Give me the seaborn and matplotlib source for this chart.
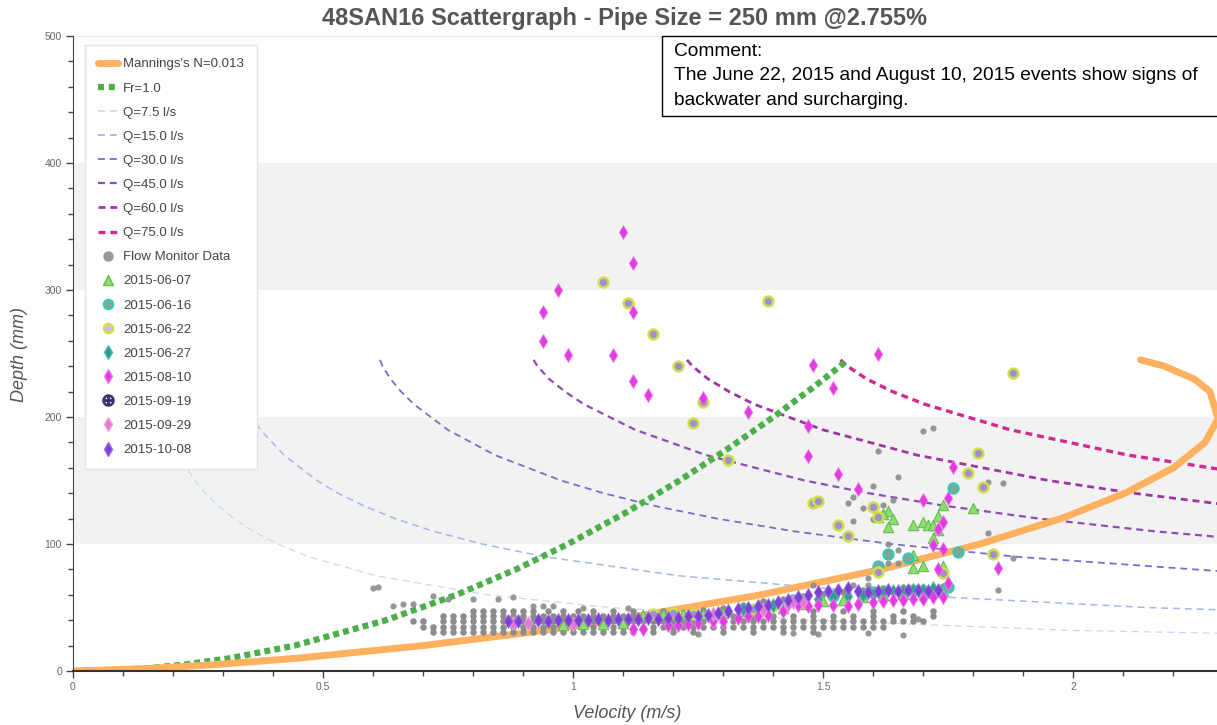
import numpy as np
import pandas as pd
import seaborn as sns
import matplotlib.pyplot as plt
from matplotlib.lines import Line2D
from matplotlib.patches import Rectangle
from matplotlib.ticker import MultipleLocator

sns.set_style("white")
plt.rcParams['font.family'] = ['Liberation Sans', 'DejaVu Sans']
plt.rcParams['lines.scale_dashes'] = False

# ---- design curves ----
manning_d = [0, 2, 5, 10, 20, 30, 40, 60, 80, 100, 120, 140, 160, 180, 200, 210, 220, 230, 240, 245]
manning_v = [0.0, 0.154, 0.283, 0.447, 0.700, 0.905, 1.081, 1.376, 1.616, 1.814, 1.976, 2.104,
             2.201, 2.264, 2.292, 2.290, 2.274, 2.242, 2.183, 2.135]

fr_d = [0, 1, 2.5, 5, 10, 20, 40, 60, 80, 100, 125, 150, 175, 200, 225, 245]
fr_v = [0.0, 0.099, 0.157, 0.221, 0.313, 0.443, 0.626, 0.767, 0.886, 0.990, 1.107, 1.213,
        1.310, 1.401, 1.486, 1.550]

q_depth = [245, 240, 230, 220, 210, 190, 170, 150, 140, 130, 120, 110, 100, 90, 75, 60, 50, 40, 32, 26, 20]
q7_v = [0.154, 0.155, 0.159, 0.164, 0.170, 0.187, 0.211, 0.244, 0.265, 0.291, 0.322, 0.361, 0.409,
        0.471, 0.606, 0.828, 1.073, 1.480, 1.993, 2.784]
q15_v = [0.307, 0.310, 0.317, 0.328, 0.341, 0.375, 0.422, 0.488, 0.530, 0.582, 0.644, 0.721, 0.818,
         0.943, 1.211, 1.656, 2.146, 2.959]
q30_v = [0.614, 0.619, 0.635, 0.656, 0.682, 0.749, 0.844, 0.976, 1.061, 1.163, 1.288, 1.442, 1.636,
         1.886, 2.422]
q45_v = [0.921, 0.929, 0.952, 0.984, 1.022, 1.124, 1.266, 1.463, 1.591, 1.745, 1.932, 2.163, 2.454]
q60_v = [1.228, 1.239, 1.270, 1.312, 1.363, 1.499, 1.688, 1.951, 2.121, 2.326, 2.576]
q75_v = [1.535, 1.549, 1.587, 1.639, 1.704, 1.874, 2.110, 2.439]

q_labels = ['Q=7.5 l/s', 'Q=15.0 l/s', 'Q=30.0 l/s', 'Q=45.0 l/s', 'Q=60.0 l/s', 'Q=75.0 l/s']
q_colors = ['#c9d8f0', '#a4b7e6', '#7470c8', '#8b4fb3', '#9c37a3', '#cf2a8f']
q_widths = [0.9, 1.1, 1.3, 1.6, 2.0, 2.4]

# ---- flow monitor data ----
gray_v = [0.60, 0.61, 0.64, 0.66, 0.68, 0.72, 0.75, 0.80, 0.85, 0.88, 0.92, 0.94, 0.96, 1.02, 1.11,
          1.48, 1.56, 1.59, 1.44, 1.49, 1.59, 1.25, 1.61, 1.70, 1.72, 1.65, 1.60, 1.56, 1.55, 1.58,
          1.64, 1.62, 1.60, 1.56, 1.83, 1.86, 1.83, 1.63, 1.65, 1.63, 1.65, 1.59, 1.88, 1.85, 1.69, 1.66]
gray_d = [65, 66, 51, 53, 53, 59, 57, 57, 57, 58, 51, 51, 51, 50, 50,
          68, 68, 68, 30, 29, 30, 29, 173, 189, 191, 153, 146, 137, 132, 128,
          135, 131, 120, 118, 149, 148, 109, 100, 95, 85, 85, 73, 89, 64, 41, 28]

gray_rows_d = [31, 35, 39, 43, 47]
gray_row31 = [0.72, 0.74, 0.76, 0.78, 0.80, 0.82, 0.84, 0.86, 0.88, 0.90, 0.92, 0.94, 0.96, 0.98,
              1.00, 1.02, 1.04, 1.06, 1.08, 1.10, 1.12, 1.16, 1.20, 1.24, 1.30, 1.36, 1.42, 1.48]
gray_row35 = [0.70, 0.72, 0.74, 0.76, 0.78, 0.80, 0.82, 0.84, 0.86, 0.88, 0.90, 0.92, 0.94, 0.96,
              0.98, 1.00, 1.02, 1.04, 1.06, 1.08, 1.10, 1.12, 1.14, 1.16, 1.18, 1.20, 1.22, 1.24,
              1.26, 1.28, 1.30, 1.32, 1.34, 1.36, 1.38, 1.40, 1.42, 1.44, 1.46, 1.48, 1.50, 1.52,
              1.54, 1.56, 1.58, 1.60, 1.62]
gray_row39 = [0.68, 0.70, 0.74, 0.76, 0.78, 0.80, 0.82, 0.84, 0.86, 0.88, 0.90, 0.92, 0.94, 0.96,
              0.98, 1.00, 1.02, 1.04, 1.06, 1.08, 1.10, 1.12, 1.14, 1.16, 1.18, 1.20, 1.22, 1.24,
              1.26, 1.28, 1.30, 1.32, 1.34, 1.36, 1.38, 1.40, 1.42, 1.44, 1.46, 1.48, 1.50, 1.52,
              1.54, 1.56, 1.58, 1.60, 1.62, 1.64, 1.66, 1.68, 1.70]
gray_row43 = [0.74, 0.76, 0.78, 0.80, 0.82, 0.84, 0.86, 0.88, 0.90, 0.92, 0.94, 0.96, 0.98, 1.00,
              1.02, 1.04, 1.06, 1.08, 1.10, 1.12, 1.14, 1.16, 1.18, 1.20, 1.24, 1.28, 1.32, 1.36,
              1.40, 1.44, 1.48, 1.52, 1.56, 1.60, 1.64, 1.68, 1.72]
gray_row47 = [0.80, 0.82, 0.84, 0.86, 0.88, 0.90, 0.92, 0.95, 0.98, 1.01, 1.04, 1.08, 1.12, 1.18,
              1.24, 1.30, 1.36, 1.42, 1.48, 1.54, 1.60, 1.66, 1.72]
gray_rows_v = [gray_row31, gray_row35, gray_row39, gray_row43, gray_row47]
gray_up_v = [1.26, 1.30, 1.34, 1.38, 1.42, 1.46, 1.50, 1.54, 1.58, 1.62, 1.66, 1.70, 1.74]
gray_up_d = [48, 50, 52, 55, 57, 59, 61, 62, 64, 65, 66, 66, 67]

# ---- storm events ----
e0607_v = [1.63, 1.62, 1.61, 1.64, 1.63, 1.68, 1.70, 1.71, 1.72, 1.73, 1.74, 1.80, 1.73, 1.72, 1.68,
           1.68, 1.70, 1.74, 0.98, 1.02, 1.06, 1.10, 1.14, 1.18, 1.22, 1.26, 1.30, 1.34, 1.38, 1.42,
           1.46, 1.50, 1.54, 1.58, 1.62, 1.66, 1.70, 1.74]
e0607_d = [126, 124, 121, 120, 113, 115, 117, 115, 115, 122, 131, 128, 111, 105, 91,
           81, 83, 83, 36, 37, 37, 38, 44, 45, 45, 45, 46, 47, 48, 50,
           53, 55, 56, 58, 60, 61, 62, 63]
e0616_v = [1.76, 1.63, 1.67, 1.77, 1.61, 1.44, 1.52, 1.60, 1.68, 1.75]
e0616_d = [144, 92, 89, 94, 83, 56, 59, 62, 64, 66]
e0622_v = [1.06, 1.11, 1.16, 1.21, 1.26, 1.24, 1.31, 1.39, 1.48, 1.49, 1.53, 1.55, 1.60, 1.61, 1.81,
           1.79, 1.82, 1.84, 1.74, 1.61, 1.88, 1.16, 1.20, 1.24, 1.36, 1.40]
e0622_d = [306, 290, 265, 240, 212, 195, 166, 291, 132, 134, 115, 106, 129, 121, 172,
           156, 145, 92, 77, 78, 235, 45, 46, 45, 49, 51]
e0627_v = [1.28, 1.31, 1.34, 1.37, 1.40, 1.43, 1.46, 1.49, 1.52, 1.55, 1.58, 1.60, 1.62, 1.64, 1.66,
           1.68, 1.70, 1.72]
e0627_d = [45, 47, 49, 50, 52, 54, 56, 57, 58, 59, 60, 61, 62, 63, 63, 64, 64, 65]
e0810_v = [1.10, 1.12, 0.97, 0.94, 0.94, 0.99, 1.08, 1.12, 1.12, 1.15, 1.26, 1.35, 1.48, 1.52, 1.47,
           1.47, 1.53, 1.57, 1.70, 1.75, 1.76, 1.74, 1.73, 1.72, 1.74, 1.73, 1.75, 1.61, 1.85,
           1.12, 1.14, 1.19, 1.21, 1.23, 1.25, 1.28, 1.30, 1.33, 1.35, 1.37, 1.39, 1.42, 1.45, 1.47,
           1.49, 1.52, 1.55, 1.57, 1.60, 1.62, 1.64, 1.66, 1.68, 1.70, 1.72, 1.74]
e0810_d = [346, 321, 300, 283, 260, 249, 249, 283, 228, 217, 215, 204, 241, 223, 193,
           169, 155, 143, 135, 136, 161, 117, 112, 99, 96, 80, 69, 250, 81,
           33, 33, 36, 36, 37, 38, 39, 39, 42, 43, 43, 44, 47, 52, 51,
           52, 52, 51, 53, 54, 55, 56, 56, 57, 57, 58, 58]
e0929_v = [0.88, 0.91, 1.00, 1.28, 1.38, 1.43, 1.44, 1.46]
e0929_d = [38, 38, 37, 45, 48, 52, 54, 54]
e1008_v = [0.87, 0.89, 0.93, 0.95, 0.97, 0.99, 1.01, 1.03, 1.05, 1.07, 1.09, 1.11, 1.13, 1.15, 1.17,
           1.19, 1.21, 1.23, 1.25, 1.27, 1.29, 1.31, 1.33, 1.35, 1.37, 1.39, 1.41, 1.43, 1.45, 1.47,
           1.49, 1.51, 1.53, 1.55, 1.57, 1.59, 1.61, 1.63, 1.65, 1.67, 1.69, 1.71, 1.73]
e1008_d = [39, 39, 40, 39, 40, 40, 40, 40, 41, 40, 41, 41, 41, 42, 41,
           42, 42, 43, 43, 44, 46, 47, 49, 50, 51, 52, 54, 56, 58, 60,
           62, 63, 64, 65, 63, 62, 63, 64, 63, 64, 64, 63, 64]

manning_color = '#ffb15f'
fr_color = '#4daf4a'
gray_color = '#8c8c8c'

fig = plt.figure(figsize=(12.17, 7.25), dpi=100)
ax = fig.add_axes([73 / 1217, 54 / 725, 1144 / 1217, 635 / 725])

ax.axhspan(100, 200, color='#f2f2f2', lw=0, zorder=0)
ax.axhspan(300, 400, color='#f2f2f2', lw=0, zorder=0)
ax.axhline(500, color='#e8e8e8', lw=1.5, zorder=0)

# Q lines
q_vs = [q7_v, q15_v, q30_v, q45_v, q60_v, q75_v]
for vs, col, lw in zip(q_vs, q_colors, q_widths):
    sns.lineplot(x=vs, y=q_depth[:len(vs)], sort=False, estimator=None, color=col, lw=lw, ax=ax)
    ax.lines[-1].set_dashes((5, 3.5))

sns.lineplot(x=fr_v, y=fr_d, sort=False, estimator=None, color=fr_color, lw=4.5, ax=ax)
ax.lines[-1].set_dashes((4.3, 3.0))
ax.lines[-1].set_dash_capstyle('butt')
sns.lineplot(x=manning_v, y=manning_d, sort=False, estimator=None, color=manning_color, lw=5, ax=ax)

# scatter
sns.scatterplot(x=gray_v, y=gray_d, color=gray_color, s=20, linewidth=0, alpha=0.9, ax=ax, zorder=3)
for d, vs in zip(gray_rows_d, gray_rows_v):
    sns.scatterplot(x=vs, y=[d] * len(vs), color=gray_color, s=22, linewidth=0, ax=ax, zorder=3)
sns.scatterplot(x=gray_up_v, y=gray_up_d, color=gray_color, s=22, linewidth=0, ax=ax, zorder=3)

sns.scatterplot(x=e0607_v, y=e0607_d, marker='^', color='#93dc72', edgecolor='#5fbf4a',
                linewidth=0.8, s=55, ax=ax, zorder=4)
sns.scatterplot(x=e0616_v, y=e0616_d, marker='o', color='#86a494', edgecolor='#3cc4b4',
                linewidth=1.8, s=50, ax=ax, zorder=4)
sns.scatterplot(x=e0622_v, y=e0622_d, marker='o', color='#a98bd0', edgecolor='#c9e24a',
                linewidth=1.8, s=50, ax=ax, zorder=4)
sns.scatterplot(x=e0627_v, y=e0627_d, marker='d', color='#2b9e8c', edgecolor='#55c2a8',
                linewidth=0.6, s=50, ax=ax, zorder=4)
sns.scatterplot(x=e0810_v, y=e0810_d, marker='d', color='#e03ce0', edgecolor='#f07af0',
                linewidth=0.6, s=50, ax=ax, zorder=4)
sns.scatterplot(x=e0929_v, y=e0929_d, marker='d', color='#e27ad2', edgecolor='#f0a0e4',
                linewidth=0.6, s=50, ax=ax, zorder=4)
sns.scatterplot(x=e1008_v, y=e1008_d, marker='d', color='#7c3fd4', edgecolor='#9d6ce2',
                linewidth=0.6, s=50, ax=ax, zorder=4)

ax.set_xlim(0, 2.288)
ax.set_ylim(0, 500)
ax.set_xticks([0, 0.5, 1, 1.5, 2])
ax.set_xticklabels(['0', '0.5', '1', '1.5', '2'])
ax.set_yticks([0, 100, 200, 300, 400, 500])
ax.xaxis.set_minor_locator(MultipleLocator(0.1))
ax.yaxis.set_minor_locator(MultipleLocator(20))
ax.tick_params(which='major', direction='out', length=5, width=1, color='#444',
               labelsize=7.5, labelcolor='#666', pad=3)
ax.tick_params(which='minor', direction='out', length=3.5, width=1, color='#444')
ax.tick_params(axis='x', which='both', bottom=True)
ax.tick_params(axis='y', which='both', left=True)
for side in ['top', 'right']:
    ax.spines[side].set_visible(False)
ax.spines['left'].set_color('#444')
ax.spines['bottom'].set_color('#333')
ax.spines['bottom'].set_linewidth(1.5)
ax.set_xlabel('')
ax.set_ylabel('')

handles = [Line2D([], [], color=manning_color, lw=5, label="Mannings's N=0.013"),
           Line2D([], [], color=fr_color, lw=4.5, dashes=(4.3, 3.5), dash_capstyle='butt', label='Fr=1.0')]
for lab, col, lw in zip(q_labels, q_colors, q_widths):
    handles.append(Line2D([], [], color=col, lw=max(lw, 1.3), dashes=(5, 3.5), label=lab))
handles += [
    Line2D([], [], ls='', marker='o', ms=6.5, mfc='#999999', mec='#999999', label='Flow Monitor Data'),
    Line2D([], [], ls='', marker='^', ms=7, mfc='#93dc72', mec='#5fbf4a', label='2015-06-07'),
    Line2D([], [], ls='', marker='o', ms=6.5, mfc='#86a494', mec='#3cc4b4', mew=1.8, label='2015-06-16'),
    Line2D([], [], ls='', marker='o', ms=6.5, mfc='#d8b8f0', mec='#c9e24a', mew=1.8, label='2015-06-22'),
    Line2D([], [], ls='', marker='d', ms=7, mfc='#2b9e8c', mec='#55c2a8', label='2015-06-27'),
    Line2D([], [], ls='', marker='d', ms=7, mfc='#e03ce0', mec='#f07af0', label='2015-08-10'),
    Line2D([], [], ls='', marker=r'$\oplus$', ms=8, color='#34346a', label='2015-09-19'),
    Line2D([], [], ls='', marker='d', ms=7, mfc='#e27ad2', mec='#f0a0e4', label='2015-09-29'),
    Line2D([], [], ls='', marker='d', ms=7, mfc='#7c3fd4', mec='#9d6ce2', label='2015-10-08'),
]
leg = ax.legend(handles=handles, loc='upper left', bbox_to_anchor=(12 / 1144, 626 / 635),
                borderaxespad=0, fontsize=9.5, labelspacing=0.9, handlelength=1.5,
                handletextpad=0.4, borderpad=1.0, fancybox=False, framealpha=1,
                edgecolor='#e4e4e4')
leg.set_zorder(10)
for t in leg.get_texts():
    t.set_color('#444444')

fig.text(624 / 1217, 1 - 18 / 725, '48SAN16 Scattergraph - Pipe Size = 250 mm @2.755%',
         ha='center', va='center', fontsize=17, fontweight='bold', color='#555555')
fig.text(627 / 1217, 1 - 713 / 725, 'Velocity (m/s)', ha='center', va='center',
         fontsize=13, style='italic', color='#555555')
fig.text(20 / 1217, 1 - 354 / 725, 'Depth (mm)', ha='center', va='center', rotation=90,
         fontsize=13, style='italic', color='#555555')

fig.add_artist(Rectangle((662 / 1217, 1 - 116 / 725), 0.47, 80 / 725, transform=fig.transFigure,
                         facecolor='white', edgecolor='black', lw=1, zorder=20))
fig.text(674 / 1217, 1 - 43 / 725,
         'Comment:\nThe June 22, 2015 and August 10, 2015 events show signs of\nbackwater and surcharging.',
         ha='left', va='top', fontsize=13.8, linespacing=1.57, color='black', zorder=21)

fig.savefig('out.png', dpi=100)
